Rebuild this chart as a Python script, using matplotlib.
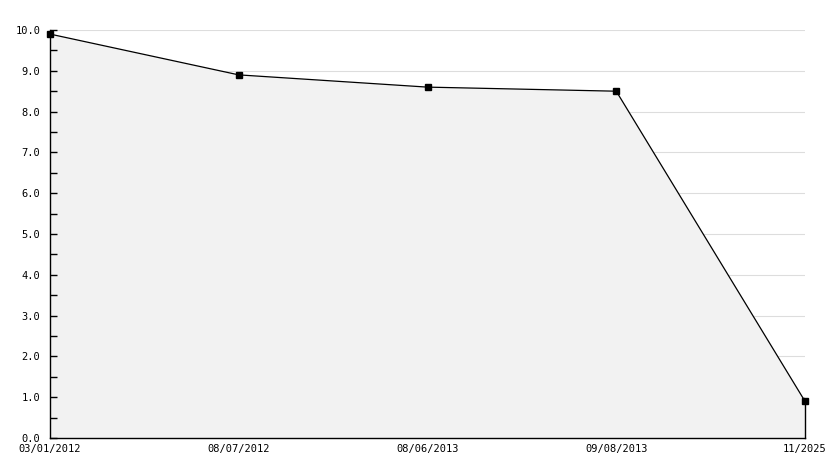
import matplotlib
matplotlib.use("Agg")
import matplotlib.pyplot as plt
from matplotlib.ticker import MultipleLocator

categories = ["03/01/2012", "08/07/2012", "08/06/2013", "09/08/2013", "11/2025"]
values = [9.9, 8.9, 8.6, 8.5, 0.9]
yticks = [0, 1, 2, 3, 4, 5, 6, 7, 8, 9, 10]

W, H = 834, 468
fig = plt.figure(figsize=(W / 100, H / 100), dpi=100)
ax = fig.add_axes([50 / W, 1 - 438 / H, (805 - 50) / W, (438 - 30) / H])

x = list(range(len(categories)))
ax.fill_between(x, values, 0, color="#f2f2f2", zorder=1, linewidth=0)
ax.plot(x, values, color="black", linewidth=0.9, marker="s", markersize=4.2,
        zorder=4, clip_on=False)
ax.plot([x[-1], x[-1]], [0, values[-1]], color="black", linewidth=1.0, zorder=3,
        clip_on=False)

ax.set_xlim(0, len(categories) - 1)
ax.set_ylim(0, 10)
ax.set_yticks(yticks)
ax.set_yticklabels([f"{v:.1f}" for v in yticks])
ax.yaxis.set_minor_locator(MultipleLocator(0.5))
ax.set_xticks(x)
ax.set_xticklabels(categories)

for v in yticks[1:]:
    ax.axhline(v, color="#dddddd", linewidth=0.8, zorder=0)

for s in ["top", "right"]:
    ax.spines[s].set_visible(False)
for s in ["left", "bottom"]:
    ax.spines[s].set_linewidth(1.0)
    ax.spines[s].set_color("black")

ax.tick_params(axis="y", which="major", direction="in", length=5, width=1, pad=7,
               labelsize=7.5, labelfontfamily="DejaVu Sans Mono")
ax.tick_params(axis="y", which="minor", direction="in", length=5, width=1)
ax.tick_params(axis="x", which="major", direction="in", length=0, pad=4,
               labelsize=7.5, labelfontfamily="DejaVu Sans Mono")
ax.set_facecolor("white")
ax.set_axisbelow(False)

fig.savefig("out.png", dpi=100)
